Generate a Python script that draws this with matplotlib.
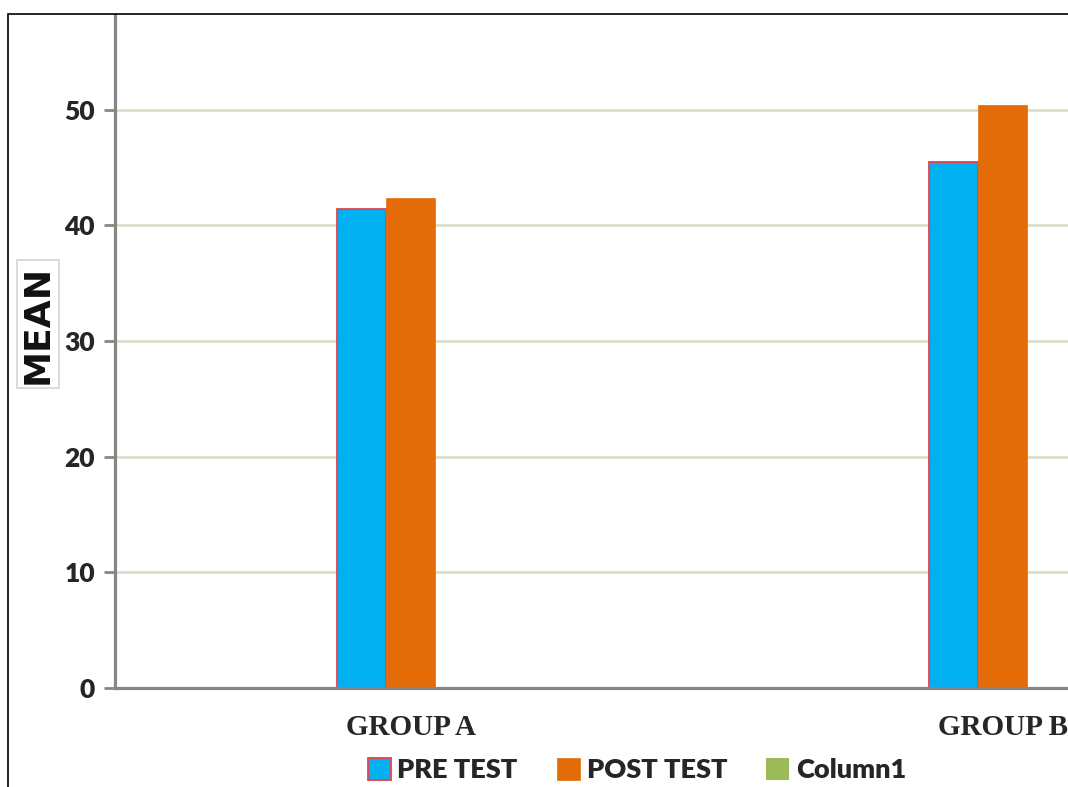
import matplotlib
matplotlib.use("Agg")
import matplotlib.pyplot as plt
from matplotlib.patches import Rectangle
import numpy as np

# Data
groups = ["GROUP A", "GROUP B"]
pre_test = [41.4, 45.5]
post_test = [42.4, 50.4]
column1 = [0, 0]
series_names = ["PRE TEST", "POST TEST", "Column1"]
y_ticks = [0, 10, 20, 30, 40, 50]

PRE_COLOR = "#00B0F0"
PRE_EDGE = "#E8414C"
POST_COLOR = "#E36C09"
COL1_COLOR = "#9BBB59"
AXIS_GRAY = "#868686"
GRID_COLOR = "#DDD9C3"
TEXT_DARK = "#262626"

W, H = 1068, 787
fig = plt.figure(figsize=(W / 100, H / 100), dpi=100)

# plot area runs past the right edge of the canvas (chart is cropped)
left_px, right_px = 114.5, 1298.5
top_px, bottom_px = 15, 688
ax = fig.add_axes([left_px / W, (H - bottom_px) / H,
                   (right_px - left_px) / W, (bottom_px - top_px) / H])

x = np.arange(len(groups))
bw = 49 / 592

ax.bar(x - bw, pre_test, width=bw, color=PRE_COLOR, edgecolor=PRE_EDGE,
       linewidth=1.3, label=series_names[0], zorder=3)
ax.bar(x, post_test, width=bw, color=POST_COLOR, edgecolor=POST_COLOR,
       linewidth=0.5, label=series_names[1], zorder=3)
ax.bar(x + bw, column1, width=bw, color=COL1_COLOR, linewidth=0,
       label=series_names[2], zorder=3)

ax.set_xlim(-0.5, 1.5)
ax.set_ylim(0, 58.2)
ax.set_yticks(y_ticks)
ax.set_xticks(x)
ax.set_xticklabels(groups, fontfamily="Liberation Serif", fontweight="bold",
                   fontsize=21, color=TEXT_DARK)
ax.set_yticklabels([str(v) for v in y_ticks], fontfamily="Lato",
                   fontweight="heavy", fontsize=19, color=TEXT_DARK)
ax.tick_params(axis="x", length=0, pad=19)
ax.tick_params(axis="y", length=8, width=2, color=AXIS_GRAY, pad=6)

ax.yaxis.grid(True, color=GRID_COLOR, linewidth=1.8)
ax.set_axisbelow(True)
for side in ("top", "right"):
    ax.spines[side].set_visible(False)
for side in ("left", "bottom"):
    ax.spines[side].set_color(AXIS_GRAY)
    ax.spines[side].set_linewidth(2.3)
    ax.spines[side].set_zorder(4)

# vertical axis title in a light box
fig.text(38 / W, (H - 324) / H, "MEAN", rotation=90, ha="center", va="center",
         fontsize=26, fontweight="heavy", fontfamily="DejaVu Sans", color="#111111",
         bbox=dict(boxstyle="square,pad=0.12", facecolor="white",
                   edgecolor="#D4D4D4", linewidth=1.2))

# legend along the bottom
handles, labels = ax.get_legend_handles_labels()
leg = fig.legend(handles, labels, loc="center", ncol=3,
                 bbox_to_anchor=(637 / W, (H - 770) / H), frameon=False,
                 prop=dict(family="Lato", weight="heavy", size=19.5),
                 handlelength=0.85, handleheight=0.85, handletextpad=0.25,
                 columnspacing=1.45, borderpad=0)
for t in leg.get_texts():
    t.set_color(TEXT_DARK)

# outer frame of the chart object (cropped at right and bottom)
fig.patches.append(Rectangle((8 / W, -0.2), 2.0, (H - 14) / H + 0.2,
                             transform=fig.transFigure, fill=False,
                             edgecolor="black", linewidth=1.2))

fig.savefig("out.png", dpi=100)
